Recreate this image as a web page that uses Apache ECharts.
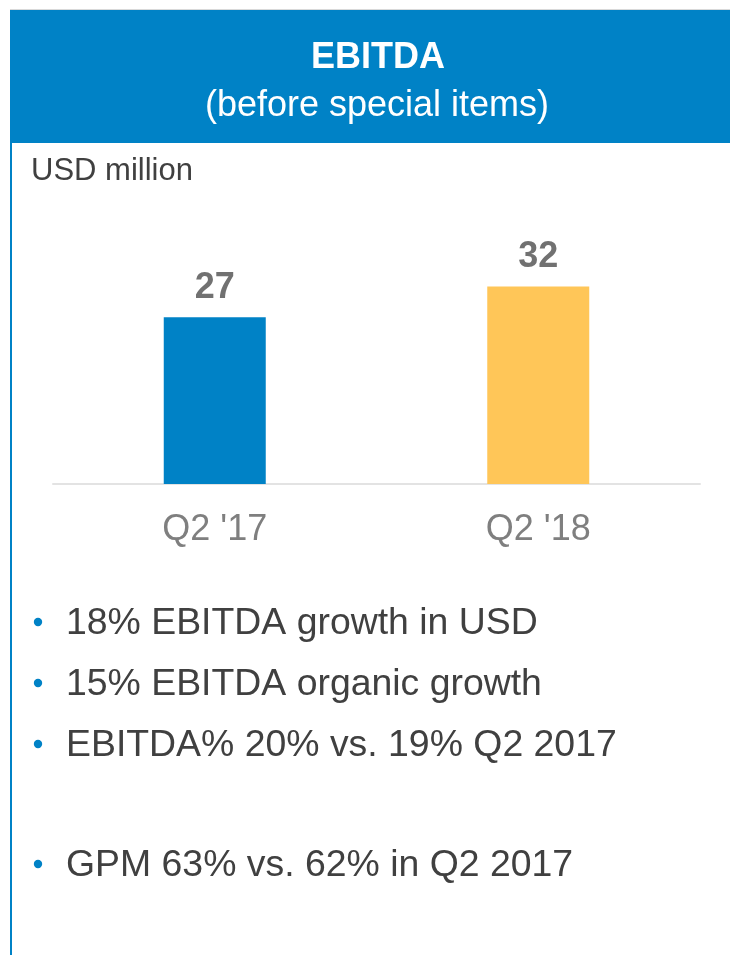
<!DOCTYPE html>
<html>
<head>
<meta charset="utf-8">
<title>EBITDA (before special items)</title>
<script src="https://cdn.jsdelivr.net/npm/echarts@6/dist/echarts.min.js"></script>
<style>
  html, body { margin: 0; padding: 0; background: #ffffff; }
  #chart { width: 730px; height: 955px; }
</style>
</head>
<body>
<div id="chart"></div>
<script>
// Quarterly EBITDA before special items, USD million
const categories = ["Q2 '17", "Q2 '18"];
const ebitda = [27, 32];

// Commentary shown under the chart
const notes = [
  '18% EBITDA growth in USD',
  '15% EBITDA organic growth',
  'EBITDA% 20% vs. 19% Q2 2017',
  'GPM 63% vs. 62% in Q2 2017'
];

const FONT = "'Liberation Sans', Arial, Helvetica, sans-serif";
const BLUE = '#0082c6';
const barColors = [BLUE, '#ffc658'];
// vertical centre of each commentary line
const noteRows = [624, 685, 746, 866];

const chart = echarts.init(document.getElementById('chart'), null, { renderer: 'canvas' });

function label(text, x, y, font, fill, align) {
  return {
    type: 'text', x: x, y: y, silent: true,
    style: { text: text, fill: fill, font: font, textAlign: align, textVerticalAlign: 'middle' }
  };
}

const graphics = [
  // thin rule above the header band
  { type: 'rect', shape: { x: 10, y: 9, width: 720, height: 1 }, style: { fill: '#d9d9d9' }, silent: true },
  // header band
  { type: 'rect', shape: { x: 10, y: 10, width: 720, height: 133 }, style: { fill: BLUE }, silent: true },
  // left border of the panel
  { type: 'rect', shape: { x: 10, y: 143, width: 2, height: 812 }, style: { fill: BLUE }, silent: true },
  label('EBITDA', 378, 58, 'bold 36px ' + FONT, '#ffffff', 'center'),
  label('(before special items)', 377, 106, '36px ' + FONT, '#ffffff', 'center'),
  label('USD million', 31, 171, '31px ' + FONT, '#404040', 'left')
];

notes.forEach(function (t, i) {
  const y = noteRows[i];
  graphics.push({
    type: 'circle', silent: true,
    shape: { cx: 38, cy: y - 2, r: 4.2 },
    style: { fill: BLUE }
  });
  graphics.push(label(t, 66, y, '37.4px ' + FONT, '#404040', 'left'));
});

chart.setOption({
  animation: false,
  backgroundColor: '#ffffff',
  grid: { left: 53, right: 30, top: 237, bottom: 471, containLabel: false },
  xAxis: {
    type: 'category',
    data: categories,
    axisLine: { show: true, lineStyle: { color: '#e3e3e3', width: 2 } },
    axisTick: { show: false },
    axisLabel: { color: '#7f7f7f', fontSize: 36, fontFamily: FONT, margin: 28 }
  },
  yAxis: {
    type: 'value',
    min: 0,
    max: 40,
    show: false,
    splitLine: { show: false }
  },
  series: [{
    type: 'bar',
    data: ebitda.map(function (v, i) {
      return { value: v, itemStyle: { color: barColors[i] } };
    }),
    barWidth: 102,
    z: 1,
    label: {
      show: true,
      position: 'top',
      distance: 11,
      color: '#717171',
      fontSize: 36,
      fontWeight: 'bold',
      fontFamily: FONT
    }
  }],
  graphic: graphics
});
</script>
</body>
</html>
